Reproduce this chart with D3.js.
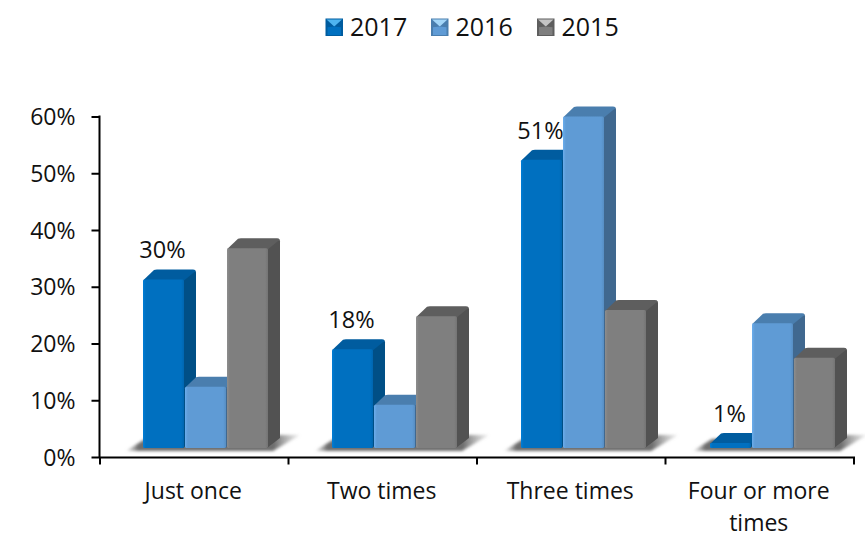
<!DOCTYPE html>
<html><head><meta charset="utf-8">
<script src="https://cdn.jsdelivr.net/npm/d3@7"></script>
<style>html,body{margin:0;background:#fff;overflow:hidden}svg{display:block}text{font-family:"Open Sans",Lato,sans-serif;fill:#111}</style>
</head><body><div id="c"></div>
<script>
const categories = ["Just once","Two times","Three times","Four or more times"];
const seriesNames = ["2017","2016","2015"];
const v2017 = [29.7,17.4,50.8,0.9];
const v2016 = [10.8,7.6,58.4,22];
const v2015 = [35.2,23.2,24.3,15.9];
const tickLabels = [0,10,20,30,40,50,60];
const dataLabels = ["30%","18%","51%","1%"];
const seriesValues = [v2017,v2016,v2015];
const front = ["#0070c0","#5f9bd5","#7f7f7f"];
const topC = ["#005c9f","#4a7eae","#5e5e5e"];
const side = ["#004f86","#40688f","#525252"];
const legendLight = ["#4db4f0","#a4d6f8","#c4c4c4"];

const W=865,H=533,dx=12,dy=10,floor=9;
const svg=d3.select("#c").append("svg").attr("width",W).attr("height",H);
const defs=svg.append("defs");
defs.append("filter").attr("id","blur").attr("x","-20%").attr("y","-100%").attr("width","140%").attr("height","300%")
  .append("feGaussianBlur").attr("stdDeviation",1.6);
const shadeG=defs.append("linearGradient").attr("id","shadow").attr("x1",0).attr("x2",1);
shadeG.append("stop").attr("offset",0).attr("stop-color","#999").attr("stop-opacity",.2);
shadeG.append("stop").attr("offset",.07).attr("stop-color","#666").attr("stop-opacity",.95);
shadeG.append("stop").attr("offset",.85).attr("stop-color","#666").attr("stop-opacity",.95);
shadeG.append("stop").attr("offset",1).attr("stop-color","#999").attr("stop-opacity",.15);
front.forEach((c,i)=>{
  const g=defs.append("linearGradient").attr("id","f"+i).attr("x1",0).attr("x2",1);
  g.append("stop").attr("offset",0).attr("stop-color",d3.color(c).brighter(.3));
  g.append("stop").attr("offset",.07).attr("stop-color",c);
  g.append("stop").attr("offset",.93).attr("stop-color",c);
  g.append("stop").attr("offset",1).attr("stop-color",d3.color(c).darker(.25));
});

const y=d3.scaleLinear().domain([0,60]).range([457,116.5]);
const x0=d3.scaleBand().domain(categories).range([100,854]);
const xBars=d3.scaleBand().domain(categories).range([100,856]);
const x1=d3.scaleBand().domain(seriesNames).range([43,169]);

const gy=svg.append("g").attr("transform","translate(99.5,0)")
  .call(d3.axisLeft(y).tickValues(tickLabels).tickFormat(d=>d+"%").tickSize(8));
gy.select(".domain").attr("stroke","#000").attr("stroke-width",2).attr("d","M0,115.5V458");
gy.selectAll("line").attr("stroke","#000").attr("stroke-width",2);
gy.selectAll("text").style("font-size","23px").attr("dy","0.35em").attr("x",-24).attr("text-anchor","end");

const gx=svg.append("g").attr("transform","translate(0,457.5)")
  .call(d3.axisBottom(x0).tickSize(0).tickFormat(""));
gx.select(".domain").attr("stroke","#000").attr("stroke-width",2).attr("d","M99,0H855");
d3.range(5).forEach(i=>{
  const tx=i<4?x0(categories[i]):x0.range()[1];
  gx.append("line").attr("x1",tx).attr("x2",tx).attr("y1",0).attr("y2",7).attr("stroke","#000").attr("stroke-width",2);
});

const lines=[["Just once"],["Two times"],["Three times"],["Four or more","times"]];
categories.forEach((c,i)=>{
  lines[i].forEach((l,j)=>svg.append("text").attr("x",x0(c)+x0.bandwidth()/2-1).attr("y",499+j*31.5)
    .attr("text-anchor","middle").style("font-size","23px").text(l));
});

const base=d=>y(d)-floor;
categories.forEach(c=>{
  const L=xBars(c)+x1.range()[0], R=L+x1.range()[1]-x1.range()[0];
  const b=base(0);
  svg.append("path").attr("d",`M${L-17},${b+3}L${R+4},${b+3}L${R+31},${b-13}L${R+8},${b-13}L${L+2},${b-9}Z`)
    .attr("fill","url(#shadow)").attr("filter","url(#blur)");
});
categories.forEach((c,ci)=>{
  [0,1,2].forEach(si=>{
    const v=seriesValues[si][ci], X=xBars(c)+x1(seriesNames[si]), w=x1.bandwidth()-1, t=base(v), b=base(0);
    const g=svg.append("g");
    g.append("path").attr("d",`M${X+w-1},${t}L${X+w+dx-2.5},${t-dy+1}Q${X+w+dx},${t-dy} ${X+w+dx},${t-dy+3}L${X+w+dx},${b-dy}L${X+w-1},${b}Z`).attr("fill",side[si]);
    g.append("path").attr("d",`M${X},${t+1}L${X+dx-1},${t-dy+.5}Q${X+dx},${t-dy} ${X+dx+2},${t-dy}L${X+w+dx-3},${t-dy}Q${X+w+dx},${t-dy} ${X+w+dx-1},${t-dy+2}L${X+w},${t+1}Z`).attr("fill",topC[si]);
    g.append("rect").attr("x",X).attr("y",t).attr("width",w).attr("height",Math.max(0,b-t)).attr("rx",1.5).attr("fill","url(#f"+si+")");
  });
});
categories.forEach((c,i)=>{
  const X=xBars(c)+x1(seriesNames[0])+x1.bandwidth()/2;
  svg.append("text").attr("x",X-1.5).attr("y",base(v2017[i])-21).attr("text-anchor","middle").style("font-size","23.5px").text(dataLabels[i]);
});
const legendX=[325.5,431,537];
seriesNames.forEach((s,i)=>{
  const X=legendX[i],Y=18.5,S=17.5;
  const g=svg.append("g");
  g.append("rect").attr("x",X).attr("y",Y).attr("width",S).attr("height",S).attr("fill",topC[i]);
  g.append("path").attr("d",`M${X+1},${Y+1}H${X+S-1}L${X+S/2},${Y+S*.45}Z`).attr("fill",legendLight[i]);
  g.append("path").attr("d",`M${X+2},${Y+S-1}H${X+S-2}V${Y+S*.5}L${X+S/2},${Y+S*.45}L${X+2},${Y+S*.5}Z`).attr("fill",front[i]);
  svg.append("text").attr("x",X+24.5).attr("y",36).style("font-size","25px").text(s);
});
</script></body></html>
